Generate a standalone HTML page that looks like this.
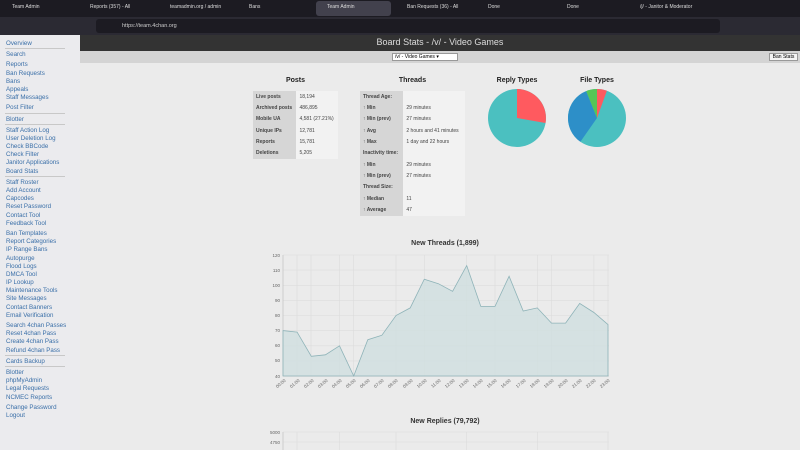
<!DOCTYPE html>
<html><head><meta charset="utf-8"><style>
*{margin:0;padding:0;box-sizing:border-box}
body{width:800px;height:450px;overflow:hidden;background:#ebebeb;font-family:"Liberation Sans",sans-serif;position:relative}
.a{position:absolute}
.tab{position:absolute;top:4px;font-size:5px;color:#ddd;white-space:nowrap}
.side div{font-size:6.2px;color:#3a6fa8;height:8.2px;line-height:8.2px;padding-left:6px;white-space:nowrap}
.side .sep{border-top:1px solid #c8c8c8;width:60px;margin-left:5px;height:3px}
.side .gap{height:2px}
table{border-collapse:collapse;font-size:5px;color:#444}
td{padding:0 3px;height:11.35px;white-space:nowrap}
td.l{background:#d6d6d6;font-weight:bold}
td.v{background:#f2f2f2}
h3{position:absolute;font-size:7px;font-weight:bold;color:#222;text-align:center}
</style></head><body>
<div class="a" style="left:0;top:0;width:800px;height:17px;background:#1c1b22"></div>
<div class="a" style="left:316px;top:1px;width:75px;height:15px;background:#42414d;border-radius:3px"></div>
<div class="tab" style="left:12px">Team Admin</div><div class="tab" style="left:90px">Reports (357) - All</div>
<div class="tab" style="left:170px">teamadmin.org / admin</div><div class="tab" style="left:249px">Bans</div>
<div class="tab" style="left:327px">Team Admin</div><div class="tab" style="left:407px">Ban Requests (36) - All</div>
<div class="tab" style="left:488px">Done</div><div class="tab" style="left:567px">Done</div>
<div class="tab" style="left:640px">/j/ - Janitor &amp; Moderator</div>
<div class="a" style="left:0;top:17px;width:800px;height:18px;background:#2b2a33"></div>
<div class="a" style="left:96px;top:19px;width:624px;height:14px;background:#1c1b22;border-radius:3px"></div>
<div class="a" style="left:122px;top:23px;font-size:5.5px;color:#ccc">https://team.4chan.org</div>
<div class="a" style="left:0;top:35px;width:80px;height:415px;background:#ebebee"></div>
<div class="a side" style="left:0;top:40px">
<div>Overview</div><div class="sep"></div><div>Search</div><div class="gap"></div>
<div>Reports</div><div>Ban Requests</div><div>Bans</div><div>Appeals</div><div>Staff Messages</div><div class="gap"></div><div>Post Filter</div><div class="sep"></div>
<div>Blotter</div><div class="sep"></div><div>Staff Action Log</div><div>User Deletion Log</div><div>Check BBCode</div><div>Check Filter</div><div>Janitor Applications</div><div>Board Stats</div><div class="sep"></div>
<div>Staff Roster</div><div>Add Account</div><div>Capcodes</div><div>Reset Password</div><div>Contact Tool</div><div>Feedback Tool</div><div class="gap"></div>
<div>Ban Templates</div><div>Report Categories</div><div>IP Range Bans</div><div>Autopurge</div><div>Flood Logs</div><div>DMCA Tool</div><div>IP Lookup</div><div>Maintenance Tools</div><div>Site Messages</div><div>Contact Banners</div><div>Email Verification</div><div class="gap"></div>
<div>Search 4chan Passes</div><div>Reset 4chan Pass</div><div>Create 4chan Pass</div><div>Refund 4chan Pass</div><div class="sep"></div><div>Cards Backup</div><div class="sep"></div>
<div>Blotter</div><div>phpMyAdmin</div><div>Legal Requests</div><div>NCMEC Reports</div><div class="gap"></div><div>Change Password</div><div>Logout</div>
</div>
<div class="a" style="left:80px;top:35px;width:720px;height:16px;background:#333"></div>
<div class="a" style="left:80px;top:37px;width:720px;text-align:center;font-size:9px;color:#ddd">Board Stats - /v/ - Video Games</div>
<div class="a" style="left:80px;top:51px;width:720px;height:12px;background:#d4d4d4"></div>
<div class="a" style="left:392px;top:53px;width:66px;height:8px;background:#fff;border:1px solid #999;font-size:5px;line-height:6px;padding-left:2px">/v/ - Video Games ▾</div>
<div class="a" style="left:769px;top:53px;width:29px;height:8px;background:#f4f4f4;border:1px solid #999;font-size:5px;line-height:6px;text-align:center">Ban Stats</div>
<h3 style="left:253px;top:77px;width:85px">Posts</h3>
<h3 style="left:360px;top:77px;width:105px">Threads</h3>
<h3 style="left:487px;top:77px;width:60px">Reply Types</h3>
<h3 style="left:567px;top:77px;width:60px">File Types</h3>
<table class="a" style="left:253px;top:91px;width:85px">
<tr><td class="l">Live posts</td><td class="v">18,194</td></tr><tr><td class="l">Archived posts</td><td class="v">486,895</td></tr>
<tr><td class="l">Mobile UA</td><td class="v">4,581 (27.21%)</td></tr><tr><td class="l">Unique IPs</td><td class="v">12,781</td></tr>
<tr><td class="l">Reports</td><td class="v">15,781</td></tr><tr><td class="l">Deletions</td><td class="v">5,205</td></tr></table>
<table class="a" style="left:360px;top:91px;width:105px">
<tr><td class="l">Thread Age:</td><td class="v"></td></tr><tr><td class="l">↑ Min</td><td class="v">29 minutes</td></tr>
<tr><td class="l">↑ Min (prev)</td><td class="v">27 minutes</td></tr><tr><td class="l">↑ Avg</td><td class="v">2 hours and 41 minutes</td></tr>
<tr><td class="l">↑ Max</td><td class="v">1 day and 22 hours</td></tr><tr><td class="l">Inactivity time:</td><td class="v"></td></tr>
<tr><td class="l">↑ Min</td><td class="v">29 minutes</td></tr><tr><td class="l">↑ Min (prev)</td><td class="v">27 minutes</td></tr>
<tr><td class="l">Thread Size:</td><td class="v"></td></tr><tr><td class="l">↑ Median</td><td class="v">11</td></tr><tr><td class="l">↑ Average</td><td class="v">47</td></tr></table>
<svg class="a" style="left:0;top:0" width="800" height="450">
<circle cx="517" cy="118" r="29" fill="#4bc0c0"/>
<path d="M517 118 L517 89 A29 29 0 0 1 545.5 123 Z" fill="#ff5a5f"/>
<circle cx="597" cy="118" r="29" fill="#4bc0c0"/>
<path d="M597 118 L597 89 A29 29 0 0 1 606.9 90.7 Z" fill="#ff5a5f"/>
<path d="M597 118 L580.4 141.8 A29 29 0 0 1 586.2 91.1 Z" fill="#2d8fc8"/>
<path d="M597 118 L586.2 91.1 A29 29 0 0 1 597 89 Z" fill="#56c556"/>
<text x="445" y="245" font-size="7" font-weight="bold" text-anchor="middle" fill="#333" font-family="Liberation Sans">New Threads (1,899)</text>
<g stroke="#dcdcdc" stroke-width="0.6">
<line x1="283" x2="609" y1="255" y2="255"/><line x1="283" x2="609" y1="270.1" y2="270.1"/><line x1="283" x2="609" y1="285.3" y2="285.3"/><line x1="283" x2="609" y1="300.4" y2="300.4"/><line x1="283" x2="609" y1="315.5" y2="315.5"/><line x1="283" x2="609" y1="330.6" y2="330.6"/><line x1="283" x2="609" y1="345.8" y2="345.8"/><line x1="283" x2="609" y1="360.9" y2="360.9"/>
<line x1="297" x2="297" y1="255" y2="376"/><line x1="311" x2="311" y1="255" y2="376"/><line x1="339.5" x2="339.5" y1="255" y2="376"/><line x1="353.7" x2="353.7" y1="255" y2="376"/><line x1="396" x2="396" y1="255" y2="376"/><line x1="424.3" x2="424.3" y1="255" y2="376"/><line x1="466.7" x2="466.7" y1="255" y2="376"/><line x1="495" x2="495" y1="255" y2="376"/><line x1="537.3" x2="537.3" y1="255" y2="376"/><line x1="551.5" x2="551.5" y1="255" y2="376"/><line x1="593.9" x2="593.9" y1="255" y2="376"/><line x1="608" x2="608" y1="255" y2="376"/>
</g>
<line x1="283" x2="609" y1="376" y2="376" stroke="#bbb" stroke-width="0.6"/>
<line x1="283" x2="283" y1="255" y2="376" stroke="#bbb" stroke-width="0.6"/>
<path d="M283 376 L283 330.6 L297.1 332.1 L311.3 356.3 L325.4 354.8 L339.5 345.8 L353.7 376 L367.8 339.7 L381.9 335.2 L396 315.5 L410.2 307.9 L424.3 279.2 L438.4 283.7 L452.6 291.3 L466.7 265.6 L480.8 306.4 L495 306.4 L509.1 276.2 L523.2 311 L537.3 307.9 L551.5 323.1 L565.6 323.1 L579.7 303.4 L593.9 312.5 L608 324.6 L608 376 Z" fill="#cfdfe0" fill-opacity="0.8" stroke="#8eb3b8" stroke-width="0.8"/>
<g font-size="4.5" fill="#666" font-family="Liberation Sans" text-anchor="end">
<text x="280" y="257">120</text><text x="280" y="272">110</text><text x="280" y="287">100</text><text x="280" y="302">90</text><text x="280" y="317">80</text><text x="280" y="332">70</text><text x="280" y="347">60</text><text x="280" y="362">50</text><text x="280" y="378">40</text>
</g>
<g font-size="4.5" fill="#666" font-family="Liberation Sans" text-anchor="end">
<text transform="translate(286,381) rotate(-40)">00:00</text><text transform="translate(300,381) rotate(-40)">01:00</text><text transform="translate(314,381) rotate(-40)">02:00</text><text transform="translate(328,381) rotate(-40)">03:00</text><text transform="translate(342,381) rotate(-40)">04:00</text><text transform="translate(356,381) rotate(-40)">05:00</text><text transform="translate(370,381) rotate(-40)">06:00</text><text transform="translate(384,381) rotate(-40)">07:00</text><text transform="translate(398,381) rotate(-40)">08:00</text><text transform="translate(413,381) rotate(-40)">09:00</text><text transform="translate(427,381) rotate(-40)">10:00</text><text transform="translate(441,381) rotate(-40)">11:00</text><text transform="translate(455,381) rotate(-40)">12:00</text><text transform="translate(469,381) rotate(-40)">13:00</text><text transform="translate(483,381) rotate(-40)">14:00</text><text transform="translate(497,381) rotate(-40)">15:00</text><text transform="translate(511,381) rotate(-40)">16:00</text><text transform="translate(526,381) rotate(-40)">17:00</text><text transform="translate(540,381) rotate(-40)">18:00</text><text transform="translate(554,381) rotate(-40)">19:00</text><text transform="translate(568,381) rotate(-40)">20:00</text><text transform="translate(582,381) rotate(-40)">21:00</text><text transform="translate(596,381) rotate(-40)">22:00</text><text transform="translate(610,381) rotate(-40)">23:00</text>
</g>
<text x="445" y="423" font-size="7" font-weight="bold" text-anchor="middle" fill="#333" font-family="Liberation Sans">New Replies (79,792)</text>
<g stroke="#dcdcdc" stroke-width="0.6">
<line x1="283" x2="609" y1="432" y2="432"/><line x1="283" x2="609" y1="442" y2="442"/>
<line x1="283" x2="283" y1="432" y2="450" stroke="#bbb"/><line x1="297" x2="297" y1="432" y2="450"/><line x1="339.5" x2="339.5" y1="432" y2="450"/><line x1="396" x2="396" y1="432" y2="450"/><line x1="466.7" x2="466.7" y1="432" y2="450"/><line x1="537.3" x2="537.3" y1="432" y2="450"/><line x1="608" x2="608" y1="432" y2="450"/>
</g>
<text x="280" y="434" font-size="4.5" fill="#666" text-anchor="end" font-family="Liberation Sans">5000</text>
<text x="280" y="444" font-size="4.5" fill="#666" text-anchor="end" font-family="Liberation Sans">4750</text>
</svg>
</body></html>
